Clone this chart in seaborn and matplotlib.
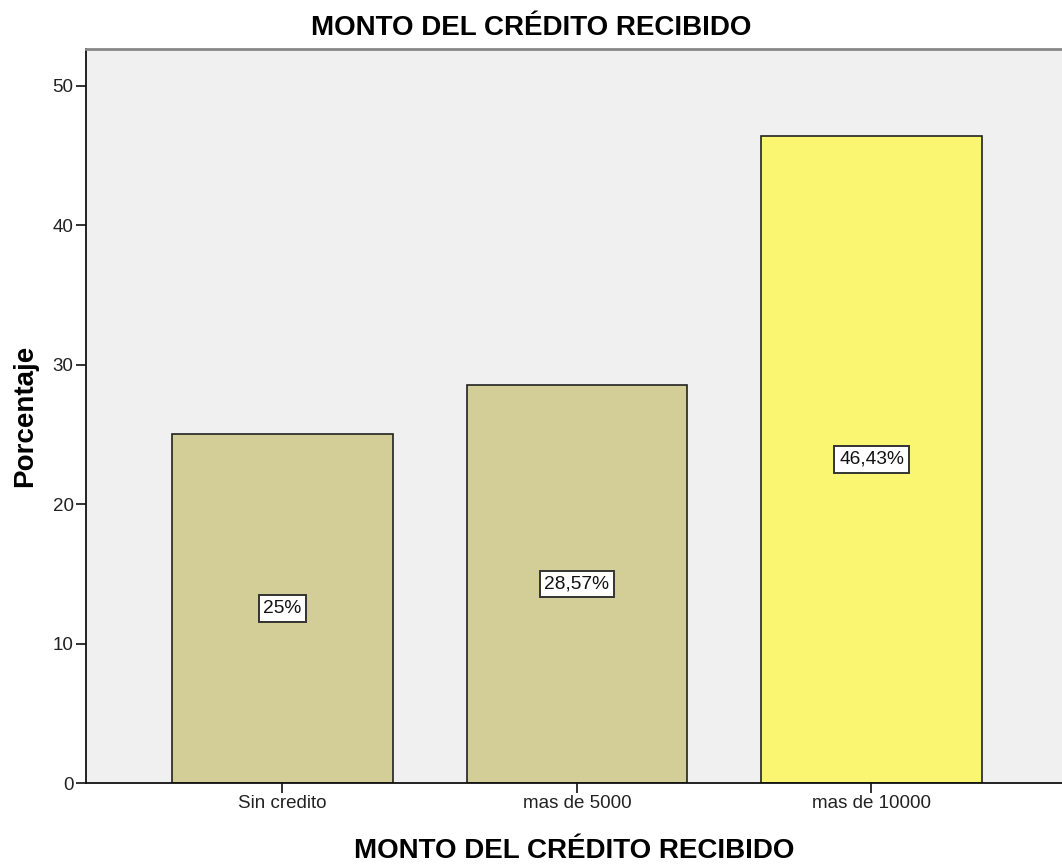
import pandas as pd
import matplotlib.pyplot as plt
import seaborn as sns

categorias = ["Sin credito", "mas de 5000", "mas de 10000"]
porcentajes = [25.0, 28.57, 46.43]
etiquetas = ["25%", "28,57%", "46,43%"]
colores = ["#D3CE97", "#D3CE97", "#FAF672"]


def main():
    df = pd.DataFrame({"categoria": categorias, "porcentaje": porcentajes})
    sns.set_style("white")
    plt.rcParams["font.family"] = ["Liberation Sans", "DejaVu Sans"]

    fig = plt.figure(figsize=(10.62, 8.64), dpi=100)
    ax = fig.add_axes([86 / 1062, 1 - 783 / 864, (1062 - 86) / 1062, (783 - 49) / 864])
    ax.set_facecolor("#F0F0F0")

    sns.barplot(
        data=df, x="categoria", y="porcentaje", hue="categoria",
        palette=colores, saturation=1, legend=False, width=0.75,
        edgecolor="#222222", linewidth=1.2, ax=ax,
    )

    # boxed labels in the middle of each bar
    for i, (v, lab) in enumerate(zip(porcentajes, etiquetas)):
        ax.text(i, v / 2, lab, ha="center", va="center", fontsize=13.8, color="#111111",
                bbox=dict(boxstyle="square,pad=0.25", fc="white", ec="#333333", lw=1.4))

    ax.set_xlim(-0.667, 2.647)
    ax.set_ylim(0, 52.65)
    ax.set_yticks([0, 10, 20, 30, 40, 50])
    ax.tick_params(axis="both", bottom=True, left=True, labelsize=13.5, colors="#222222",
                   length=7, width=1.3, direction="out", pad=2)

    for s in ["left", "bottom"]:
        ax.spines[s].set_color("#111111")
        ax.spines[s].set_linewidth(1.3)
    ax.spines["top"].set_color("#888888")
    ax.spines["top"].set_linewidth(2)
    ax.spines["right"].set_visible(False)

    ax.set_xlabel("MONTO DEL CRÉDITO RECIBIDO", fontsize=20, fontweight="bold", labelpad=18, color="black")
    ax.set_ylabel("Porcentaje", fontsize=20, fontweight="bold", labelpad=10, color="black")
    fig.text(531 / 1062, 1 - 28 / 864, "MONTO DEL CRÉDITO RECIBIDO", ha="center", va="center",
             fontsize=20, fontweight="bold", color="black")

    fig.savefig("out.png", dpi=100, facecolor="white")


if __name__ == "__main__":
    main()
